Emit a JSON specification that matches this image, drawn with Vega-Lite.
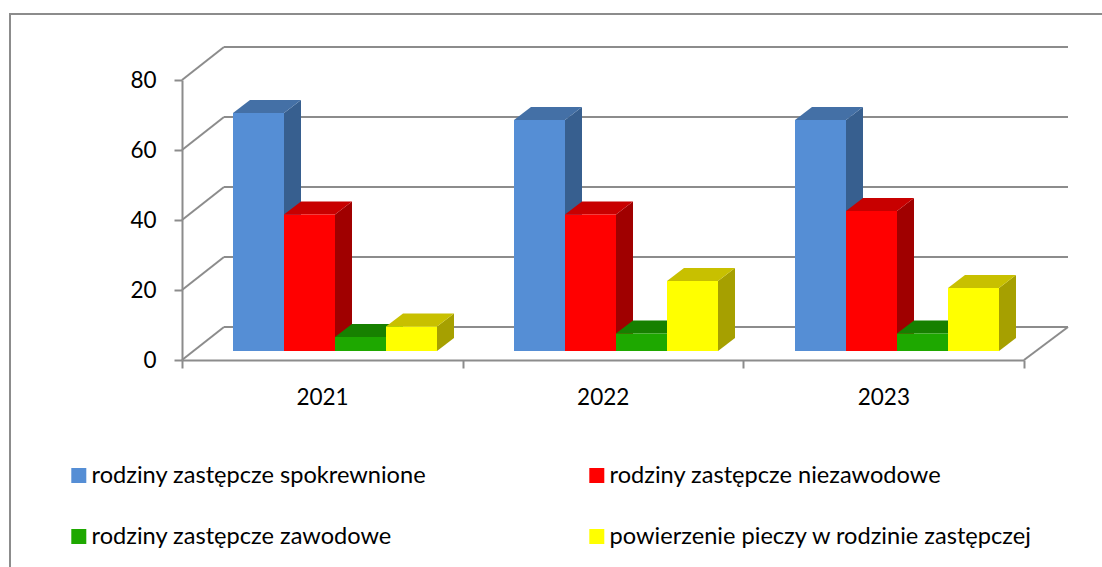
{
"$schema":"https://vega.github.io/schema/vega-lite/v6.json",
"width":842,"height":280,
"autosize":{"type":"none"},
"padding":{"left":182,"top":80,"right":78,"bottom":207},
"background":"white",
"config":{"view":{"stroke":null},"font":"Lato","axis":{"grid":false}},
"resolve":{"axis":{"x":"independent","y":"independent"}},
"data":{"values":[
{"year":2021,"series":"rodziny zastępcze spokrewnione","value":68},
{"year":2021,"series":"rodziny zastępcze niezawodowe","value":39},
{"year":2021,"series":"rodziny zastępcze zawodowe","value":4},
{"year":2021,"series":"powierzenie pieczy w rodzinie zastępczej","value":7},
{"year":2022,"series":"rodziny zastępcze spokrewnione","value":66},
{"year":2022,"series":"rodziny zastępcze niezawodowe","value":39},
{"year":2022,"series":"rodziny zastępcze zawodowe","value":5},
{"year":2022,"series":"powierzenie pieczy w rodzinie zastępczej","value":20},
{"year":2023,"series":"rodziny zastępcze spokrewnione","value":66},
{"year":2023,"series":"rodziny zastępcze niezawodowe","value":40},
{"year":2023,"series":"rodziny zastępcze zawodowe","value":5},
{"year":2023,"series":"powierzenie pieczy w rodzinie zastępczej","value":18}
]},
"transform":[
{"calculate":"indexof(['rodziny zastępcze spokrewnione','rodziny zastępcze niezawodowe','rodziny zastępcze zawodowe','powierzenie pieczy w rodzinie zastępczej'],datum.series)","as":"si"},
{"calculate":"51+281*(datum.year-2021)+51*datum.si","as":"x0"},
{"calculate":"datum.x0+51","as":"x1"},
{"calculate":"datum.value+2.571","as":"top"},
{"calculate":"2.571","as":"bottom"},
{"calculate":"'side'+datum.si","as":"sideFace"},
{"calculate":"'top'+datum.si","as":"topFace"}
],
"layer":[
{"data":{"values":[{"v":0},{"v":20},{"v":40},{"v":60},{"v":80}]},
 "mark":{"type":"rule","color":"#8c8c8c","strokeWidth":2},
 "encoding":{
  "x":{"datum":0,"type":"quantitative","scale":{"domain":[0,842],"nice":false,"zero":false},
   "axis":{"title":null,"values":[0,280.67,561.33,842],"labelExpr":"datum.value<800?format(2021+round(datum.value/280.67),'d'):''","labelOffset":140,"labelFontSize":22.5,"labelColor":"#000000","labelPadding":18,"labelOverlap":false,"labelBound":false,"labelFlush":false,"tickSize":8,"tickWidth":2,"tickColor":"#8c8c8c","domainColor":"#8c8c8c","domainWidth":2,"grid":false}},
  "x2":{"datum":42},
  "y":{"field":"v","type":"quantitative","scale":{"domain":[0,80],"nice":false,"zero":false},
   "axis":{"title":null,"values":[0,20,40,60,80],"labelFontSize":22.5,"labelColor":"#000000","labelPadding":18,"tickSize":8,"tickWidth":2,"tickColor":"#8c8c8c","domainColor":"#8c8c8c","domainWidth":2,"grid":false}},
  "y2":{"field":"back"}
 },
 "transform":[{"calculate":"datum.v+9.43","as":"back"}]
},
{"data":{"values":[{"v":0},{"v":20},{"v":40},{"v":60},{"v":80}]},
 "transform":[{"calculate":"datum.v+9.43","as":"back"}],
 "mark":{"type":"rule","color":"#8c8c8c","strokeWidth":2},
 "encoding":{
  "x":{"datum":42,"type":"quantitative","scale":{"domain":[0,842],"nice":false,"zero":false},"axis":null},
  "x2":{"datum":886},
  "y":{"field":"back","type":"quantitative","scale":{"domain":[0,80],"nice":false,"zero":false},"axis":null}
 }
},
{"data":{"values":[{"v":0}]},
 "transform":[{"calculate":"datum.v+9.43","as":"back"}],
 "mark":{"type":"rule","color":"#8c8c8c","strokeWidth":2},
 "encoding":{
  "x":{"datum":842,"type":"quantitative","scale":{"domain":[0,842],"nice":false,"zero":false},"axis":null},
  "x2":{"datum":886},
  "y":{"field":"v","type":"quantitative","scale":{"domain":[0,80],"nice":false,"zero":false},"axis":null},
  "y2":{"field":"back"}
 }
},
{"data":{"values":[{"left":-172,"right":930,"upper":98.86,"lower":-80}]},
 "mark":{"type":"rect","fill":null,"stroke":"#8c8c8c","strokeWidth":2,"clip":false},
 "encoding":{
  "x":{"field":"left","type":"quantitative","scale":{"domain":[0,842],"nice":false,"zero":false},"axis":null},
  "x2":{"field":"right"},
  "y":{"field":"upper","type":"quantitative","scale":{"domain":[0,80],"nice":false,"zero":false},"axis":null},
  "y2":{"field":"lower"}
 }
},
{"transform":[
  {"calculate":"[0,1]","as":"k"},{"flatten":["k"]},
  {"calculate":"datum.x1+17*datum.k","as":"sx"},
  {"calculate":"datum.bottom+3.714*datum.k","as":"sb"},
  {"calculate":"datum.top+3.714*datum.k","as":"st"}
 ],
 "mark":{"type":"area","interpolate":"linear"},
 "encoding":{
  "x":{"field":"sx","type":"quantitative","scale":{"domain":[0,842],"nice":false,"zero":false},"axis":null},
  "y":{"field":"sb","type":"quantitative","scale":{"domain":[0,80],"nice":false,"zero":false},"axis":null,"stack":null},
  "y2":{"field":"st"},
  "detail":{"field":"year"},
  "fill":{"field":"sideFace","type":"nominal","legend":null,"scale":{"domain":["side0","side1","side2","side3","top0","top1","top2","top3"],"range":["#375F8F","#A00000","#127A00","#A6A000","#4470A6","#C80000","#178000","#C8C000"]}}
 }
},
{"transform":[
  {"calculate":"[0,1]","as":"k"},{"flatten":["k"]},
  {"calculate":"datum.x0+17*datum.k","as":"tl"},
  {"calculate":"datum.x1+17*datum.k","as":"tr"},
  {"calculate":"datum.top+3.714*datum.k","as":"ty"}
 ],
 "mark":{"type":"area","orient":"horizontal","interpolate":"linear"},
 "encoding":{
  "y":{"field":"ty","type":"quantitative","scale":{"domain":[0,80],"nice":false,"zero":false},"axis":null},
  "x":{"field":"tl","type":"quantitative","scale":{"domain":[0,842],"nice":false,"zero":false},"axis":null,"stack":null},
  "x2":{"field":"tr"},
  "detail":{"field":"year"},
  "fill":{"field":"topFace","type":"nominal","legend":null,"scale":{"domain":["side0","side1","side2","side3","top0","top1","top2","top3"],"range":["#375F8F","#A00000","#127A00","#A6A000","#4470A6","#C80000","#178000","#C8C000"]}}
 }
},
{"mark":{"type":"rect"},
 "encoding":{
  "x":{"field":"x0","type":"quantitative","scale":{"domain":[0,842],"nice":false,"zero":false},"axis":null},
  "x2":{"field":"x1"},
  "y":{"field":"top","type":"quantitative","scale":{"domain":[0,80],"nice":false,"zero":false},"axis":null},
  "y2":{"field":"bottom"},
  "color":{"field":"series","type":"nominal","sort":null,
   "scale":{"domain":["rodziny zastępcze spokrewnione","rodziny zastępcze zawodowe","rodziny zastępcze niezawodowe","powierzenie pieczy w rodzinie zastępczej"],"range":["#558ED5","#1EA800","#FF0000","#FFFF00"]},
   "legend":{"title":null,"orient":"none","legendX":-115,"legendY":381.5,"columns":2,"symbolType":"square","symbolSize":225,"symbolStrokeWidth":0,"symbolOpacity":1,"labelFontSize":23.6,"labelColor":"#000000","labelLimit":600,"labelOffset":1,"rowPadding":33,"columnPadding":158,"clipHeight":28}}
 }
}
]
}
